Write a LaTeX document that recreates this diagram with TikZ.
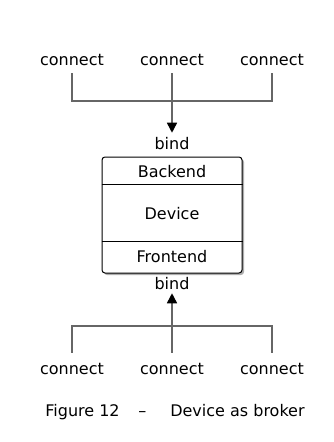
\documentclass[tikz,border=0pt]{standalone}
\usepackage{fontspec}
\setmainfont{DejaVu Sans}
\usepackage{tikz}
\usetikzlibrary{arrows.meta,positioning,shadows}
\definecolor{Wire}{HTML}{666666}
\definecolor{Shade}{HTML}{8A8A8A}

\tikzset{
  lab/.style={font=\fontsize{12}{14}\selectfont, text height=9pt, text depth=3pt, inner sep=3pt},
  wire/.style={Wire, line width=1.1pt},
  flow/.style={wire, -{Triangle[width=7.5pt,length=7.5pt,color=black]}},
  devbox/.style={draw, line width=0.75pt, fill=white, rounded corners=2.25pt,
    minimum width=105pt, minimum height=87pt, inner sep=0pt,
    drop shadow={shadow xshift=1.5pt, shadow yshift=-1.5pt, fill=Shade, opacity=.7}}
}

\begin{document}
\begin{tikzpicture}[x=0.75pt,y=-0.75pt]
  \useasboundingbox (0,0) rectangle (334,442);

  % clients on top and below
  \foreach \x/\n in {72/1,172/2,272/3} {
    \node[lab, inner ysep=2.25pt] (top\n) at (\x,62) {connect};
    \node[lab, inner ysep=6.75pt] (bot\n) at (\x,370) {connect};
  }
  \node[lab, inner ysep=3.75pt] (bindtop) at (172,146) {bind};
  \node[lab, inner ysep=0pt] (bindbot) at (172,285) {bind};

  % the device itself
  \node[devbox] (dev) at (172,215) {};
  \draw[line width=0.75pt] (dev.west |- 0,184) -- (dev.east |- 0,184);
  \draw[line width=0.75pt] (dev.west |- 0,241) -- (dev.east |- 0,241);
  \node[lab] (back) at (172,173) {Backend};
  \node[lab] (mid) at (172,215) {Device};
  \node[lab] (front) at (172,258) {Frontend};

  % fan-in above, fan-in below
  \coordinate (upjoin) at (172,101);
  \coordinate (lowjoin) at (172,326);
  \draw[wire] (top1.south) -- (top1.south |- upjoin) -- (top3.south |- upjoin) -- (top3.south);
  \draw[flow] (top2.south) -- (bindtop.north);
  \draw[wire] (bot1.north) -- (bot1.north |- lowjoin) -- (bot3.north |- lowjoin) -- (bot3.north);
  \draw[flow] (bot2.north) -- (bindbot.south);

  \node[lab] (cap) at (175,412) {Figure 12\hspace{14pt}--\hspace{18pt}Device as broker};
\end{tikzpicture}
\end{document}
